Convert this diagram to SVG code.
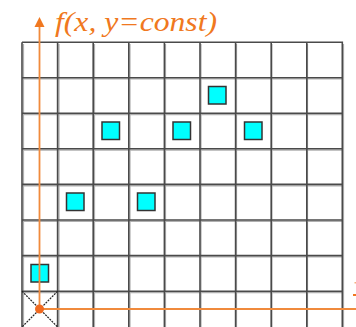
<svg xmlns="http://www.w3.org/2000/svg" width="356" height="327" viewBox="0 0 356 327">
<style>
.grid{stroke:#4a4a4a;stroke-width:1.6;fill:none}
.shadow{stroke:#b0b0b0;stroke-width:1.2;fill:none}
.sq{fill:#00ffff;stroke:#333;stroke-width:1.5}
.ax{stroke:#f08a3c;stroke-width:1.8;fill:none}
.lbl{font-family:"Liberation Serif",serif;font-style:italic;font-size:28px;fill:#f07820}
</style>
<rect width="356" height="327" fill="#fff"/>
<g id="grid">
<path class="shadow" d="M23.5 44V327M59 44V327M94.5 44V327M130 44V327M165.5 44V327M201 44V327M236.5 44V327M272 44V327M307.5 44V327M343.5 44V327M22 79H342M22 114.6H342M22 150.2H342M22 185.8H342M22 221.4H342M22 257H342M22 292.6H342"/>
<path class="grid" d="M22 42.3H342.3V327M22 42.3V327M57.6 42.3V327M93.2 42.3V327M128.8 42.3V327M164.4 42.3V327M200 42.3V327M235.6 42.3V327M271.2 42.3V327M306.8 42.3V327M22 77.7H342M22 113.2H342M22 148.8H342M22 184.4H342M22 220H342M22 255.6H342M22 291.2H342"/>
<path d="M22 291.2L57.6 327M57.6 291.2L22 327" stroke="#222" stroke-width="1.2" stroke-dasharray="2 1"/>
</g>
<g id="squares">
<rect class="sq" x="31" y="264.5" width="17.5" height="17.5"/>
<rect class="sq" x="66.5" y="193" width="17.5" height="17.5"/>
<rect class="sq" x="137.5" y="193" width="17.5" height="17.5"/>
<rect class="sq" x="102" y="122" width="17.5" height="17.5"/>
<rect class="sq" x="173" y="122" width="17.5" height="17.5"/>
<rect class="sq" x="244.5" y="122" width="17.5" height="17.5"/>
<rect class="sq" x="208.5" y="86.5" width="17.5" height="17.5"/>
</g>
<g id="axes">
<path class="ax" d="M39.5 309V24M39.5 309H356"/>
<polygon points="39.5,17 34.5,27 44.5,27" fill="#f07820"/>
<circle cx="39.5" cy="309" r="4.5" fill="#f06a20"/>
<rect x="353" y="294" width="3" height="2" fill="#f07820"/>
<rect x="354.5" y="282" width="1.5" height="1.5" fill="#f5b080"/>
</g>
<g id="label">
<text class="lbl" x="55" y="31" textLength="162" lengthAdjust="spacingAndGlyphs">f(x, y=const)</text>
</g>
</svg>
